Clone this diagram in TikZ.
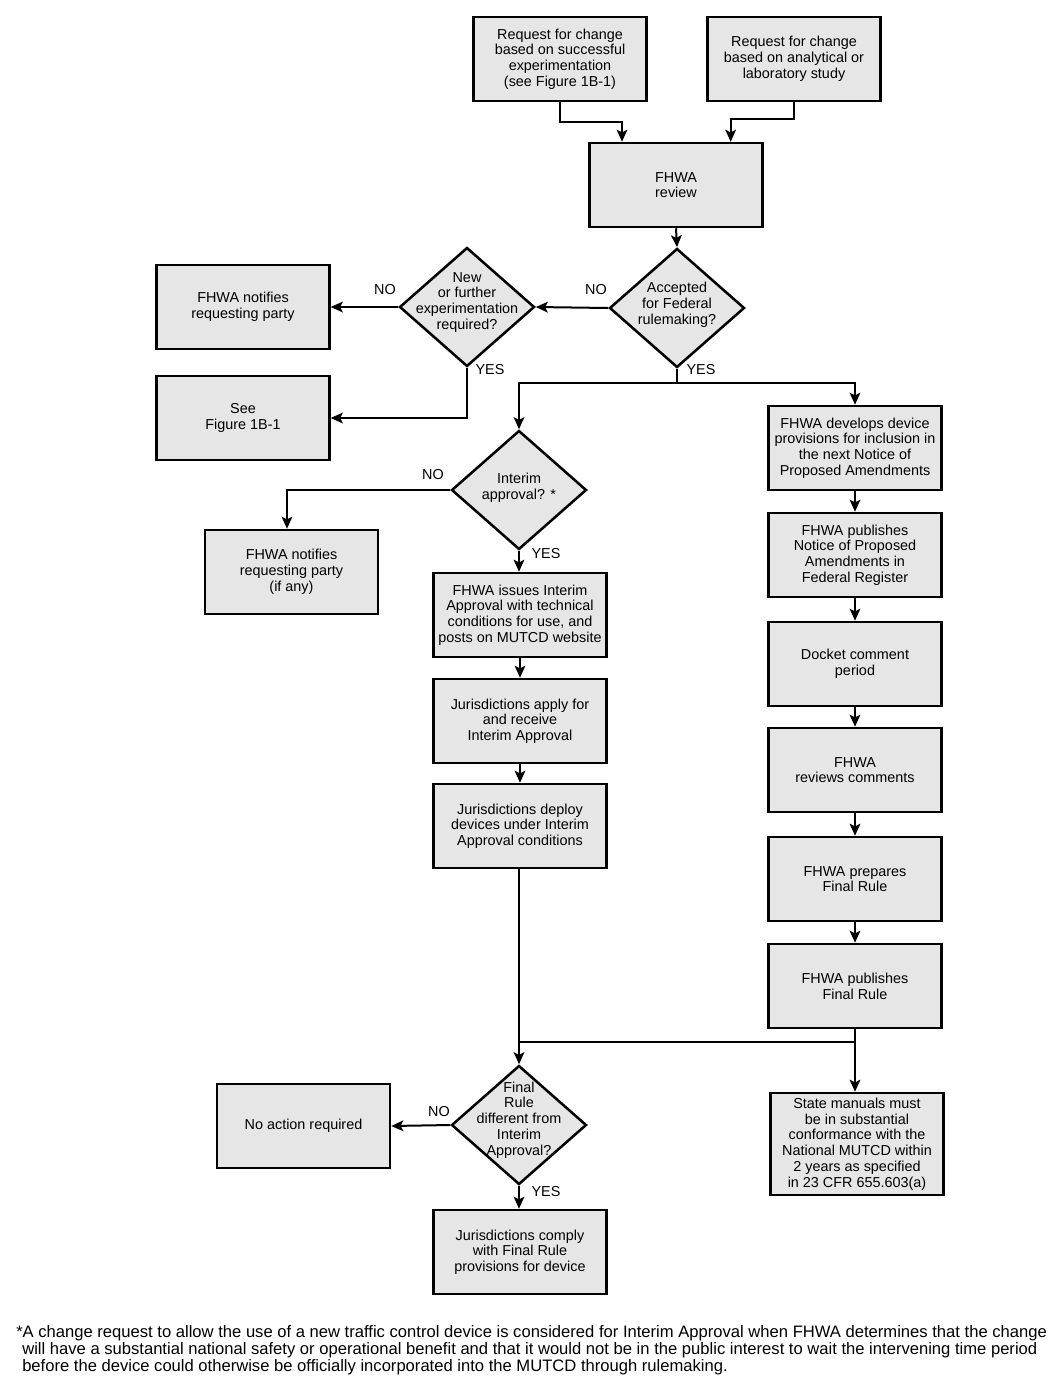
\documentclass[tikz,border=0pt]{standalone}
\usepackage{fontspec}
\setmainfont{Liberation Sans}
\usetikzlibrary{shapes.geometric,arrows.meta}
\definecolor{boxgray}{HTML}{E6E6E6}
\tikzset{
  box/.style={draw=black, line width=1.9pt, fill=boxgray, minimum width=129.75pt, minimum height=63pt, inner sep=1pt, align=center, font=\fontsize{10.8}{11.8}\selectfont},
  dia/.style={draw=black, line width=1.9pt, fill=boxgray, diamond, minimum width=101.25pt, minimum height=89.25pt, inner sep=0pt},
  diatext/.style={align=center, font=\fontsize{10.8}{11.8}\selectfont, inner sep=0pt},
  lbl/.style={font=\fontsize{10.8}{11.8}\selectfont, inner sep=0pt},
  conn/.style={line width=1.5pt},
  arr/.style={line width=1.5pt, -{Stealth[length=9pt,width=8pt,inset=2pt]}},
  foot/.style={font=\fontsize{12.45}{13}\selectfont, inner sep=0pt, anchor=base west}
}
\begin{document}
\begin{tikzpicture}[x=0.75pt,y=-0.75pt]
\useasboundingbox[fill=white] (0,0) rectangle (1063,1393);

% top requests
\node[box] (r1) at (560,59) {Request for change\\based on successful\\experimentation\\(see Figure 1B-1)};
\node[box] (r2) at (794,59) {Request for change\\based on analytical or\\laboratory study};
\node[box] (rev) at (676,185) {FHWA\\review};

% decisions
\node[dia] (d1) at (677,308) {};
\node[diatext, yshift=2.5pt] (d1t) at (d1) {Accepted\\for Federal\\rulemaking?};
\node[dia] (d2) at (467,307) {};
\node[diatext, yshift=3.5pt] (d2t) at (d2) {New\\or further\\experimentation\\required?};

\node[box] (n1) at (243,307) {FHWA notifies\\requesting party};
\node[box] (see) at (243,418) {See\\Figure 1B-1};

\node[dia] (d3) at (519,490) {};
\node[diatext, yshift=1.5pt] (d3t) at (d3) {Interim\\approval? *};
\node[box] (n2) at (291.5,572) {FHWA notifies\\requesting party\\(if any)};

% left column
\node[box] (iss) at (520,615) {FHWA issues Interim\\Approval with technical\\conditions for use, and\\posts on MUTCD website};
\node[box] (app) at (520,721) {Jurisdictions apply for\\and receive\\Interim Approval};
\node[box] (dep) at (520,826) {Jurisdictions deploy\\devices under Interim\\Approval conditions};

% right column
\node[box] (dev) at (855,448) {FHWA develops device\\provisions for inclusion in\\the next Notice of\\Proposed Amendments};
\node[box] (npa) at (855,555) {FHWA publishes\\Notice of Proposed\\Amendments in\\Federal Register};
\node[box] (dock) at (855,664) {Docket comment\\period};
\node[box] (rc) at (855,770) {FHWA\\reviews comments};
\node[box] (prep) at (855,879) {FHWA prepares\\Final Rule};
\node[box] (fin) at (855,986) {FHWA publishes\\Final Rule};

% bottom
\node[dia] (d4) at (519,1125) {};
\node[diatext, yshift=3.8pt] (d4t) at (d4) {Final\\Rule\\different from\\Interim\\Approval?};
\node[box] (na) at (303.5,1126) {No action required};
\node[box] (cmp) at (520,1252) {Jurisdictions comply\\with Final Rule\\provisions for device};
\node[box, minimum height=76.5pt] (st) at (857,1144) {State manuals must\\be in substantial\\conformance with the\\National MUTCD within\\2 years as specified\\in 23 CFR 655.603(a)};

% connectors
\draw[arr] (r1.south) -- ++(0,20) -| ([xshift=-40.5pt]rev.north);
\draw[arr] (r2.south) -- ++(0,17) -| ([xshift=41pt]rev.north);
\draw[arr] (rev.south) -- (d1.north);
\draw[arr] (d1.west) -- (d2.east);
\draw[arr] (d2.west) -- (n1.east);
\draw[arr] (d2.south) |- (see.east);
\draw[conn] (d1.south) -- (677,383) coordinate (j1);
\draw[arr] (j1) -| (d3.north);
\draw[arr] (j1) -| (dev.north);
\draw[arr] (d3.west) -| ([xshift=-3.4pt]n2.north);
\draw[arr] (d3.south) -- (iss.north -| d3.south);
\draw[arr] (iss) -- (app);
\draw[arr] (app) -- (dep);
\draw[arr] (dep.south -| d4.north) -- (d4.north);
\draw[arr] (dev) -- (npa);
\draw[arr] (npa) -- (dock);
\draw[arr] (dock) -- (rc);
\draw[arr] (rc) -- (prep);
\draw[arr] (prep) -- (fin);
\draw[arr] (fin.south) -- (fin.south |- st.north);
\coordinate (j2) at (855,1042);
\draw[conn] (j2) -- (j2 -| d4.north);
\draw[arr] (d4.west) -- (na.east);
\draw[arr] (d4.south) -- (cmp.north -| d4.south);

% labels
\node[lbl] (l1) at (596,290) {NO};
\node[lbl] (l2) at (385,290) {NO};
\node[lbl] (l3) at (490,370) {YES};
\node[lbl] (l4) at (701,370) {YES};
\node[lbl] (l5) at (433,475) {NO};
\node[lbl] (l6) at (546,554) {YES};
\node[lbl] (l7) at (439,1112) {NO};
\node[lbl] (l8) at (546,1192) {YES};

% footnote
\node[foot] (f1) at (16,1337) {*A change request to allow the use of a new traffic control device is considered for Interim Approval when FHWA determines that the change};
\node[foot] (f2) at (22,1354) {will have a substantial national safety or operational benefit and that it would not be in the public interest to wait the intervening time period};
\node[foot] (f3) at (22,1371) {before the device could otherwise be officially incorporated into the MUTCD through rulemaking.};
\end{tikzpicture}
\end{document}
